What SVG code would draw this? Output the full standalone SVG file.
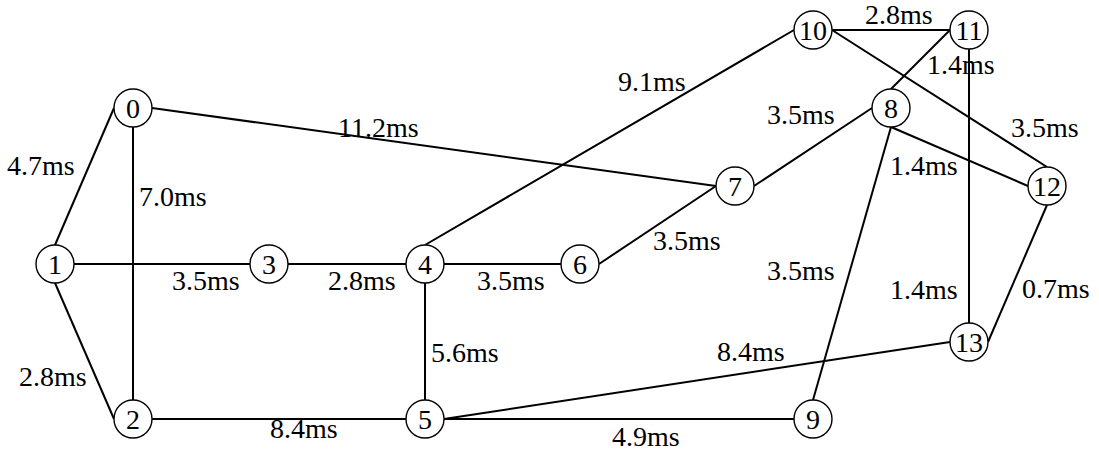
<svg xmlns="http://www.w3.org/2000/svg" width="1099" height="453" viewBox="0 0 1099 453">
<style>
.e{stroke:#000;stroke-width:2;fill:none}
.n circle{fill:#fff;stroke:#000;stroke-width:1.4}
.n text{text-anchor:middle}
</style>
<rect width="1099" height="453" fill="#fff"/>
<g id="connectors">
<line class="e" x1="114" y1="108" x2="55" y2="245"/>
<line class="e" x1="133" y1="127" x2="133" y2="400"/>
<line class="e" x1="152" y1="108" x2="716" y2="186"/>
<line class="e" x1="74" y1="264" x2="250" y2="264"/>
<line class="e" x1="55" y1="283" x2="114" y2="419"/>
<line class="e" x1="288" y1="264" x2="406" y2="264"/>
<line class="e" x1="444" y1="264" x2="561" y2="264"/>
<line class="e" x1="425" y1="245" x2="794" y2="30"/>
<line class="e" x1="425" y1="283" x2="425" y2="400"/>
<line class="e" x1="152" y1="419" x2="406" y2="419"/>
<line class="e" x1="444" y1="419" x2="794" y2="419"/>
<line class="e" x1="444" y1="419" x2="950" y2="342"/>
<line class="e" x1="599" y1="264" x2="716" y2="186"/>
<line class="e" x1="754" y1="186" x2="872" y2="108"/>
<line class="e" x1="891" y1="89" x2="950" y2="30"/>
<line class="e" x1="891" y1="127" x2="1028" y2="186"/>
<line class="e" x1="891" y1="127" x2="813" y2="400"/>
<line class="e" x1="832" y1="30" x2="950" y2="30"/>
<line class="e" x1="832" y1="30" x2="1047" y2="167"/>
<line class="e" x1="969" y1="49" x2="969" y2="323"/>
<line class="e" x1="1047" y1="205" x2="988" y2="342"/>
</g>
<g id="edge-labels" font-family="'Times New Roman', 'Liberation Serif', 'DejaVu Serif', serif" font-size="28" fill="#000">
<text x="7" y="175">4.7ms</text>
<text x="139" y="206">7.0ms</text>
<text x="338" y="137">11.2ms</text>
<text x="172" y="290">3.5ms</text>
<text x="19" y="386">2.8ms</text>
<text x="328" y="290">2.8ms</text>
<text x="477" y="290">3.5ms</text>
<text x="618" y="91">9.1ms</text>
<text x="431" y="362">5.6ms</text>
<text x="270" y="438">8.4ms</text>
<text x="612" y="446">4.9ms</text>
<text x="717" y="361">8.4ms</text>
<text x="653" y="250">3.5ms</text>
<text x="767" y="124">3.5ms</text>
<text x="927" y="74">1.4ms</text>
<text x="890" y="175">1.4ms</text>
<text x="767" y="280">3.5ms</text>
<text x="865" y="24">2.8ms</text>
<text x="1011" y="137">3.5ms</text>
<text x="890" y="299">1.4ms</text>
<text x="1022" y="298">0.7ms</text>
</g>
<g id="nodes" font-family="'Times New Roman', 'Liberation Serif', 'DejaVu Serif', serif" font-size="28" fill="#000">
<g id="n0" class="n"><circle cx="133" cy="108" r="19"/><text x="133" y="118">0</text></g>
<g id="n1" class="n"><circle cx="55" cy="264" r="19"/><text x="55" y="274">1</text></g>
<g id="n2" class="n"><circle cx="133" cy="419" r="19"/><text x="133" y="429">2</text></g>
<g id="n3" class="n"><circle cx="269" cy="264" r="19"/><text x="269" y="274">3</text></g>
<g id="n4" class="n"><circle cx="425" cy="264" r="19"/><text x="425" y="274">4</text></g>
<g id="n5" class="n"><circle cx="425" cy="419" r="19"/><text x="425" y="429">5</text></g>
<g id="n6" class="n"><circle cx="580" cy="264" r="19"/><text x="580" y="274">6</text></g>
<g id="n7" class="n"><circle cx="735" cy="186" r="19"/><text x="735" y="196">7</text></g>
<g id="n8" class="n"><circle cx="891" cy="108" r="19"/><text x="891" y="118">8</text></g>
<g id="n9" class="n"><circle cx="813" cy="419" r="19"/><text x="813" y="429">9</text></g>
<g id="n10" class="n"><circle cx="813" cy="30" r="19"/><text x="813" y="40">10</text></g>
<g id="n11" class="n"><circle cx="969" cy="30" r="19"/><text x="969" y="40">11</text></g>
<g id="n12" class="n"><circle cx="1047" cy="186" r="19"/><text x="1047" y="196">12</text></g>
<g id="n13" class="n"><circle cx="969" cy="342" r="19"/><text x="969" y="352">13</text></g>
</g>
</svg>
